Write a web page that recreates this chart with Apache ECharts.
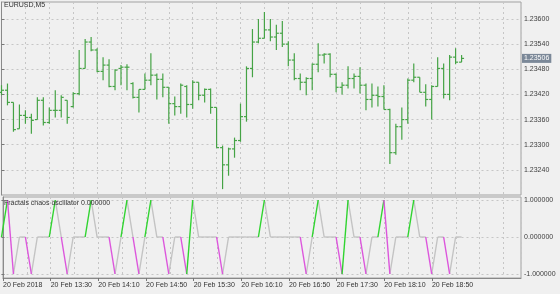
<!DOCTYPE html>
<html>
<head>
<meta charset="utf-8">
<script src="https://cdn.jsdelivr.net/npm/echarts@6.0.0/dist/echarts.min.js"></script>
<style>
html,body{margin:0;padding:0;background:#f0f0f0;}
#c{width:560px;height:294px;}
</style>
</head>
<body>
<div id="c"></div>
<script>
// ---- data (M5 bars, 20 Feb 2018 12:50 .. 19:15) ----
var opens = [1.23425,1.23430,1.23401,1.23338,1.23370,1.23365,1.23360,1.23406,1.23353,1.23382,
1.23382,1.23406,1.23391,1.23422,1.23482,1.23545,1.23526,1.23475,1.23490,1.23439,
1.23482,1.23485,1.23446,1.23413,1.23432,1.23454,1.23466,1.23456,1.23437,1.23398,
1.23391,1.23439,1.23396,1.23449,1.23418,1.23432,1.23389,1.23293,1.23252,1.23290,
1.23310,1.23367,1.23482,1.23545,1.23554,1.23574,1.23557,1.23566,1.23540,1.23502,
1.23458,1.23449,1.23458,1.23492,1.23514,1.23516,1.23468,1.23437,1.23442,1.23458,
1.23463,1.23442,1.23408,1.23418,1.23415,1.23384,1.23281,1.23343,1.23360,1.23454,
1.23461,1.23425,1.23408,1.23439,1.23482,1.23420,1.23509,1.23497];
var highs = [1.23442,1.23446,1.23401,1.23396,1.23382,1.23374,1.23413,1.23413,1.23389,1.23430,
1.23418,1.23406,1.23425,1.23526,1.23552,1.23557,1.23530,1.23509,1.23504,1.23480,
1.23490,1.23492,1.23449,1.23432,1.23470,1.23518,1.23470,1.23470,1.23437,1.23415,
1.23446,1.23442,1.23454,1.23449,1.23434,1.23434,1.23389,1.23298,1.23293,1.23317,
1.23398,1.23487,1.23576,1.23600,1.23617,1.23600,1.23586,1.23595,1.23547,1.23518,
1.23470,1.23461,1.23494,1.23542,1.23518,1.23518,1.23470,1.23449,1.23487,1.23470,
1.23485,1.23446,1.23446,1.23439,1.23442,1.23386,1.23350,1.23389,1.23458,1.23494,
1.23461,1.23444,1.23442,1.23509,1.23494,1.23514,1.23530,1.23514];
var lows = [1.23418,1.23394,1.23331,1.23338,1.23350,1.23326,1.23360,1.23346,1.23350,1.23365,
1.23365,1.23350,1.23389,1.23418,1.23482,1.23523,1.23473,1.23454,1.23437,1.23430,
1.23442,1.23430,1.23410,1.23377,1.23432,1.23442,1.23408,1.23413,1.23350,1.23370,
1.23374,1.23365,1.23386,1.23406,1.23401,1.23374,1.23293,1.23194,1.23226,1.23269,
1.23307,1.23355,1.23461,1.23542,1.23554,1.23547,1.23526,1.23533,1.23487,1.23454,
1.23430,1.23418,1.23430,1.23473,1.23494,1.23461,1.23425,1.23420,1.23434,1.23434,
1.23422,1.23382,1.23389,1.23391,1.23384,1.23254,1.23276,1.23312,1.23350,1.23449,
1.23425,1.23391,1.23360,1.23439,1.23410,1.23406,1.23492,1.23497];
var closes = [1.23430,1.23401,1.23336,1.23370,1.23365,1.23358,1.23406,1.23353,1.23382,1.23382,
1.23413,1.23365,1.23422,1.23482,1.23545,1.23526,1.23475,1.23490,1.23439,1.23478,
1.23485,1.23485,1.23413,1.23432,1.23454,1.23466,1.23456,1.23437,1.23398,1.23391,
1.23442,1.23396,1.23449,1.23418,1.23432,1.23389,1.23293,1.23252,1.23290,1.23310,
1.23367,1.23482,1.23545,1.23554,1.23574,1.23557,1.23566,1.23540,1.23502,1.23458,
1.23449,1.23458,1.23492,1.23514,1.23516,1.23468,1.23437,1.23442,1.23458,1.23463,
1.23442,1.23408,1.23418,1.23415,1.23384,1.23281,1.23343,1.23360,1.23454,1.23461,
1.23425,1.23408,1.23439,1.23482,1.23420,1.23509,1.23497,1.23506];
var oscValues = [0,1,-1,0,0,-1,0,0,0,1,
0,-1,0,0,0,1,0,0,0,-1,
0,1,0,-1,0,1,0,0,-1,0,
0,-1,1,0,0,0,0,-1,0,0,
0,0,0,0,1,0,0,0,0,0,
0,-1,0,1,0,0,0,-1,1,0,
0,-1,0,0,1,-1,0,0,0,1,
0,0,-1,0,0,-1,0,0];
var timeLabels = ['20 Feb 2018','20 Feb 13:30','20 Feb 14:10','20 Feb 14:50','20 Feb 15:30',
'20 Feb 16:10','20 Feb 16:50','20 Feb 17:30','20 Feb 18:10','20 Feb 18:50'];
var priceTicks = [1.23240,1.23300,1.23360,1.23420,1.23480,1.23540,1.23600];
var oscTicks = [-1,0,1];
var currentPrice = 1.23506;
var symbolTitle = 'EURUSD,M5';
var indicatorTitle = 'Fractals chaos oscillator 0.000000';

// ---- build ----
var BARS_PER_LABEL = 8;
var XMAX = (521 - 1.5) / 5.975;
var YMIN0 = 1.2318, YMAX0 = 1.2318 + 193 * 0.0042 / 176;
var ohlc = opens.map(function (o, i) { return [i, o, highs[i], lows[i], closes[i]]; });
var oscSeg = [];
for (var i = 1; i < oscValues.length; i++) oscSeg.push([i, oscValues[i - 1], oscValues[i]]);
var labelValues = timeLabels.map(function (_, i) { return i * BARS_PER_LABEL; });

var FONT = 'Liberation Sans';
var GRIDCOL = '#c6c6c6';
var BORDER = '#a2a2a2';
var BARCOL = '#45a345';
var UPCOL = '#2fd42f';
var DNCOL = '#dc55dc';
var NEUCOL = '#c3c3c3';

var chart = echarts.init(document.getElementById('c'), null, {renderer: 'canvas'});
var option = {
  animation: false,
  backgroundColor: '#f0f0f0',
  grid: [
    {left: 1.5, top: 2, width: 519.5, height: 193, show: true, borderColor: BORDER, borderWidth: 1, backgroundColor: '#f0f0f0'},
    {left: 1.5, top: 197, width: 519.5, height: 81, show: true, borderColor: BORDER, borderWidth: 1, backgroundColor: '#f0f0f0'},
    {left: 1.5, top: 200, width: 519.5, height: 74, show: false}
  ],
  xAxis: [
    {gridIndex: 0, type: 'value', min: 0, max: XMAX, interval: 4,
     axisLine: {show: false}, axisTick: {show: false}, axisLabel: {show: false},
     splitLine: {show: true, lineStyle: {color: GRIDCOL, type: [2, 3], width: 1}}},
    {gridIndex: 1, type: 'value', min: 0, max: XMAX, interval: 4,
     axisLine: {show: false}, axisTick: {show: false}, axisLabel: {show: false},
     splitLine: {show: true, lineStyle: {color: GRIDCOL, type: [2, 3], width: 1}}},
    {gridIndex: 2, type: 'value', min: 0, max: XMAX, show: false},
    {gridIndex: 1, type: 'value', min: 0, max: XMAX, position: 'bottom',
     axisLine: {show: true, lineStyle: {color: '#888'}},
     axisTick: {show: true, length: 3, lineStyle: {color: '#777'}, customValues: labelValues},
     axisLabel: {show: true, customValues: labelValues, align: 'left', margin: 4,
       fontFamily: FONT, fontSize: 7, color: '#333',
       formatter: function (v) { var j = Math.round(v / BARS_PER_LABEL); return timeLabels[j] || ''; }},
     splitLine: {show: false}}
  ],
  yAxis: [
    {gridIndex: 0, type: 'value', position: 'right', min: YMIN0, max: YMAX0, interval: 0.0006,
     axisLine: {show: true, lineStyle: {color: '#8a8a8a'}},
     axisTick: {show: true, length: 3, lineStyle: {color: '#777'}, customValues: priceTicks},
     axisLabel: {show: true, customValues: priceTicks, margin: 3, fontFamily: FONT, fontSize: 7, color: '#404040',
       formatter: function (v) { return v.toFixed(5); }},
     splitLine: {show: true, lineStyle: {color: GRIDCOL, type: [2, 3], width: 1}}},
    {gridIndex: 1, type: 'value', position: 'right', min: 0, max: 1,
     axisLine: {show: true, lineStyle: {color: '#8a8a8a'}}, axisTick: {show: false}, axisLabel: {show: false}, splitLine: {show: false}},
    {gridIndex: 2, type: 'value', position: 'right', min: -1, max: 1, interval: 1,
     axisLine: {show: false},
     axisTick: {show: true, length: 3, lineStyle: {color: '#777'}, customValues: oscTicks},
     axisLabel: {show: true, customValues: oscTicks, margin: 3, fontFamily: FONT, fontSize: 7, color: '#404040',
       formatter: function (v) { return v.toFixed(6); }},
     splitLine: {show: true, lineStyle: {color: GRIDCOL, type: [2, 3], width: 1}}},
    {gridIndex: 0, type: 'value', position: 'right', min: YMIN0, max: YMAX0,
     axisLine: {show: false}, axisTick: {show: false}, splitLine: {show: false},
     axisLabel: {show: true, customValues: [currentPrice], margin: 1, fontFamily: FONT, fontSize: 7,
       color: '#ffffff', backgroundColor: '#7b8898', padding: [1, 2, 1, 2],
       formatter: function (v) { return v.toFixed(5); }}}
  ],
  series: [
    {
      type: 'custom', xAxisIndex: 0, yAxisIndex: 0, clip: false,
      data: ohlc,
      encode: {x: 0, y: [1, 2, 3, 4]},
      renderItem: function (params, api) {
        var k = api.value(0);
        var o = api.coord([k, api.value(1)]);
        var h = api.coord([k, api.value(2)]);
        var l = api.coord([k, api.value(3)]);
        var c = api.coord([k, api.value(4)]);
        var x = o[0];
        var st = {stroke: BARCOL, lineWidth: 1.2};
        return {type: 'group', children: [
          {type: 'line', shape: {x1: x, y1: h[1], x2: x, y2: l[1]}, style: st},
          {type: 'line', shape: {x1: x - 2.5, y1: o[1], x2: x, y2: o[1]}, style: st},
          {type: 'line', shape: {x1: x, y1: c[1], x2: x + 2.5, y2: c[1]}, style: st}
        ]};
      },
      markLine: {
        silent: true, symbol: 'none', animation: false,
        lineStyle: {color: '#9ca3ab', type: 'solid', width: 1},
        label: {show: false},
        data: [{yAxis: currentPrice}]
      },
      z: 3
    },
    {
      type: 'custom', xAxisIndex: 2, yAxisIndex: 2, clip: false,
      data: oscSeg,
      encode: {x: 0, y: [1, 2]},
      renderItem: function (params, api) {
        var k = api.value(0);
        var v = api.value(2);
        var p0 = api.coord([k - 1, api.value(1)]);
        var p1 = api.coord([k, v]);
        var col = v === 1 ? UPCOL : (v === -1 ? DNCOL : NEUCOL);
        return {type: 'line', shape: {x1: p0[0], y1: p0[1], x2: p1[0], y2: p1[1]},
          style: {stroke: col, lineWidth: 1.4}, z2: v === 0 ? 1 : 2};
      },
      z: 3
    }
  ],
  graphic: [
    {type: 'text', left: 4, top: 2, z: 10, style: {text: symbolTitle, font: '7px "Liberation Sans"', fill: '#333'}},
    {type: 'text', left: 4, top: 200, z: 10, style: {text: indicatorTitle, font: '7px "Liberation Sans"', fill: '#333'}}
  ]
};
chart.setOption(option);
</script>
</body>
</html>
